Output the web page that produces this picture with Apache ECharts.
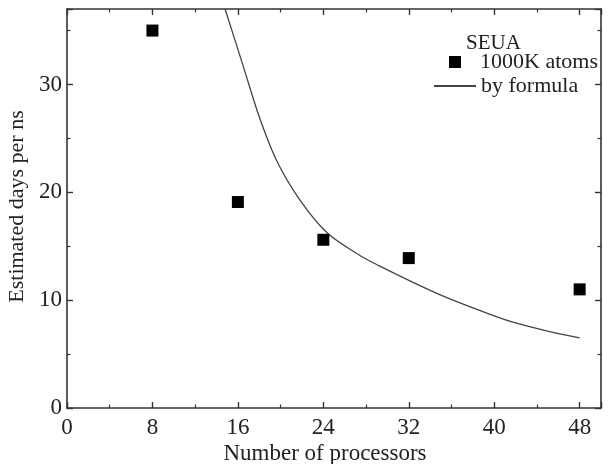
<!DOCTYPE html>
<html>
<head>
    <meta charset="utf-8">
    <title>Estimated days per ns</title>
    <script src="https://cdn.jsdelivr.net/npm/echarts@6/dist/echarts.min.js"></script>
</head>
<body style="margin:0;background:#fff;">
    <div id="chart1" style="width:608px;height:464px;"></div>
    <script type="text/javascript">
        // data
        const procCounts = [8, 16, 24, 32, 48];
        const daysPerNs = [35.0, 19.1, 15.6, 13.9, 11.0];
        // the "by formula" curve, sampled by eye
        const formulaX = [14.8, 16.5, 18.0, 19.6, 21.8, 24.4, 27.5, 29.2, 32.3, 35.4, 38.5, 41.6, 44.7, 48];
        const formulaY = [37.0, 31.7, 27.0, 23.0, 19.3, 16.2, 14.1, 13.2, 11.7, 10.3, 9.1, 8.0, 7.2, 6.5];
        const xTicks = [0, 8, 16, 24, 32, 40, 48];
        const yTicks = [0, 10, 20, 30];

        const font = 'Liberation Serif';
        const ink = '#222';
        const frame = '#333';

        let myChart1 = echarts.init(document.getElementById('chart1'));

        // shared style for the four frame axes (ticks point inward)
        function frameAxis(extra) {
            return Object.assign({
                type: 'value',
                axisLine: { show: true, onZero: false, lineStyle: { color: frame, width: 1.6 } },
                axisTick: { show: true, inside: true, length: 6, lineStyle: { color: frame, width: 1.4 } },
                minorTick: { show: true, splitNumber: 2, length: 3.5, lineStyle: { color: frame, width: 1.2 } },
                splitLine: { show: false }
            }, extra);
        }

        const legendText = { fontFamily: font, fontSize: 22, color: ink };

        myChart1.setOption({
            animation: false,
            textStyle: { fontFamily: font },
            title: {
                text: 'SEUA',
                left: 461, top: 28,
                textStyle: { fontFamily: font, fontSize: 21, fontWeight: 'normal', color: ink }
            },
            // two legends so each keeps its own icon size
            legend: [
                {
                    left: 444, top: 46,
                    icon: 'rect',
                    itemWidth: 12, itemHeight: 12,
                    textStyle: Object.assign({ padding: [0, 0, 0, 14] }, legendText),
                    data: ['1000K atoms']
                },
                {
                    left: 428, top: 70,
                    itemWidth: 42, itemHeight: 12,
                    textStyle: legendText,
                    data: [{ name: 'by formula', itemStyle: { opacity: 0 } }]
                }
            ],
            grid: { left: 67, right: 7, top: 9, bottom: 56, outerBoundsMode: 'none' },
            xAxis: [
                frameAxis({
                    min: 0, max: 50, interval: 8,
                    name: 'Number of processors',
                    nameLocation: 'middle', nameGap: 34,
                    nameMoveOverlap: false,
                    nameTextStyle: { fontFamily: font, fontSize: 23, color: ink, padding: [0, 18, 0, 0] },
                    axisLabel: {
                        fontFamily: font, fontSize: 23, color: ink, margin: 8,
                        showMaxLabel: false,
                        formatter: v => xTicks.includes(v) ? String(v) : ''
                    }
                }),
                frameAxis({ position: 'top', min: 0, max: 50, interval: 8, axisLabel: { show: false } })
            ],
            yAxis: [
                frameAxis({
                    min: 0, max: 37, interval: 10,
                    name: 'Estimated days per ns',
                    nameLocation: 'middle', nameGap: 37,
                    nameTextStyle: { fontFamily: font, fontSize: 22, color: ink, padding: [0, 0, 0, 4] },
                    axisLabel: {
                        fontFamily: font, fontSize: 23, color: ink, margin: 5,
                        showMaxLabel: false,
                        formatter: v => yTicks.includes(v) ? String(v) : ''
                    }
                }),
                frameAxis({ position: 'right', min: 0, max: 37, interval: 10, axisLabel: { show: false } })
            ],
            series: [
                {
                    name: '1000K atoms',
                    type: 'scatter',
                    symbol: 'rect',
                    symbolSize: 12,
                    itemStyle: { color: '#000', opacity: 1 },
                    data: procCounts.map((p, i) => [p, daysPerNs[i]]),
                    z: 3
                },
                {
                    name: 'by formula',
                    type: 'line',
                    symbol: 'none',
                    smooth: 0.3,
                    clip: true,
                    lineStyle: { color: '#444', width: 1.3 },
                    itemStyle: { color: '#444' },
                    data: formulaX.map((x, i) => [x, formulaY[i]])
                }
            ]
        });
    </script>
</body>
</html>
